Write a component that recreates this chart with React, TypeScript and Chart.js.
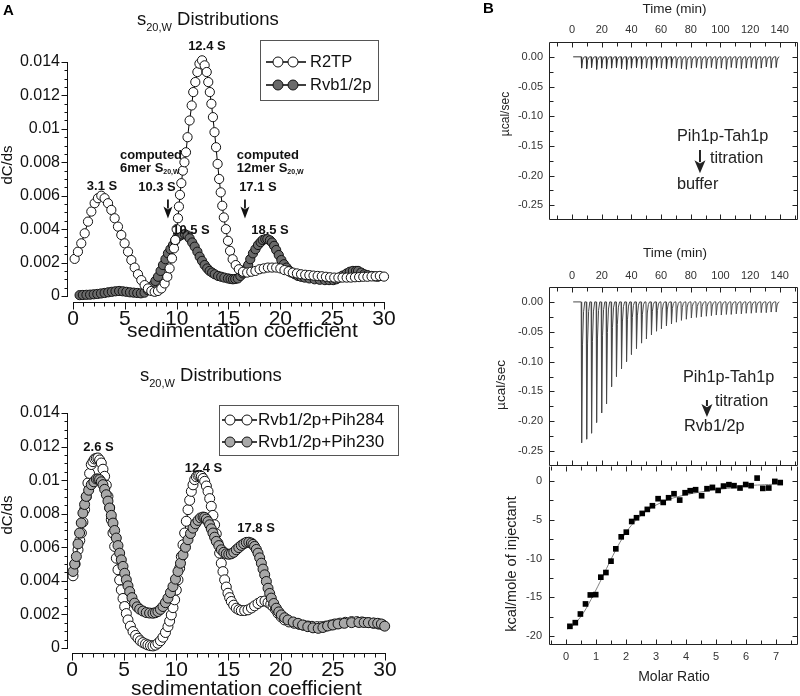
import React, { useEffect, useRef } from 'react';
import { Chart, registerables } from 'chart.js';

Chart.register(...registerables);

const FONT = '"Liberation Sans", Arial, Helvetica, sans-serif';

// ================= Panel A (top): s20,w distributions =================
const r2tpS = [0.16,0.48,0.8,1.13,1.45,1.77,2.09,2.41,2.73,3.05,3.38,3.7,4.02,4.34,4.66,4.98,5.31,5.63,5.95,6.27,6.59,6.91,7.23,7.56,7.88,8.2,8.52,8.84,9.1,9.32,9.55,9.74,9.87,10.0,10.13,10.22,10.32,10.45,10.6,10.75,10.9,11.05,11.25,11.45,11.6,11.8,12.0,12.2,12.45,12.7,12.9,13.05,13.2,13.35,13.5,13.65,13.8,13.95,14.1,14.25,14.4,14.55,14.75,14.95,15.15,15.4,15.7,16.0,16.4,16.8,17.2,17.6,18.0,18.4,18.8,19.2,19.6,20.0,20.4,20.8,21.2,21.6,22.0,22.4,22.8,23.2,23.6,24.0,24.4,24.8,25.2,25.6,26.0,26.4,26.8,27.2,27.6,28.0,28.4,28.8,29.2,29.6,30.0];
const r2tpC = [0.00222,0.00265,0.00315,0.00375,0.00445,0.00505,0.00555,0.00585,0.006,0.00585,0.00555,0.00515,0.00465,0.00415,0.00365,0.00315,0.00265,0.00215,0.0017,0.0013,0.00095,0.00065,0.00045,0.0003,0.00025,0.0003,0.00045,0.00075,0.00115,0.00165,0.00225,0.00285,0.00335,0.004,0.00465,0.00535,0.00605,0.00675,0.0075,0.008,0.0086,0.0095,0.0105,0.0114,0.0122,0.0128,0.0134,0.0139,0.0141,0.0138,0.0134,0.0128,0.0122,0.0115,0.0107,0.0098,0.0089,0.0079,0.007,0.0062,0.0054,0.0047,0.004,0.0033,0.0027,0.0022,0.00185,0.0016,0.00145,0.0014,0.00145,0.0015,0.0016,0.00165,0.0017,0.0017,0.0017,0.00165,0.00155,0.00148,0.0014,0.00135,0.0013,0.00127,0.00125,0.00122,0.0012,0.00118,0.00115,0.00112,0.0011,0.0011,0.0011,0.0011,0.0011,0.00112,0.00113,0.00115,0.00115,0.00117,0.00118,0.0012,0.00116];
const rvbS = [0.64,0.95,1.3,1.65,2.0,2.35,2.7,3.05,3.4,3.75,4.1,4.45,4.8,5.15,5.5,5.85,6.2,6.55,6.9,7.23,7.5,7.72,7.95,8.2,8.45,8.68,8.92,9.16,9.4,9.65,9.85,10.05,10.3,10.55,10.8,11.05,11.25,11.5,11.74,12.0,12.22,12.45,12.7,12.95,13.18,13.42,13.67,14.0,14.3,14.6,14.95,15.2,15.43,15.65,15.9,16.15,16.4,16.65,16.9,17.1,17.36,17.6,17.85,18.1,18.3,18.55,18.75,19.0,19.2,19.4,19.6,19.85,20.1,20.35,20.6,20.85,21.06,21.4,21.7,22.0,22.35,22.8,23.3,23.8,24.3,24.7,25.1,25.4,25.7,26.0,26.4,26.7,27.0,27.3,27.5,27.8,28.1,28.4,28.8,29.1,29.4];
const rvbC = [0.00005,0.00006,0.00007,0.00008,0.0001,0.00012,0.00015,0.00018,0.00022,0.00025,0.00028,0.0003,0.00028,0.00025,0.00022,0.0002,0.00018,0.00016,0.0002,0.00035,0.0005,0.00065,0.0009,0.00115,0.0015,0.00185,0.0022,0.00255,0.0028,0.00305,0.0033,0.0035,0.0036,0.00368,0.0037,0.00362,0.00345,0.0032,0.00295,0.00265,0.00235,0.0021,0.00185,0.00165,0.0015,0.0014,0.0013,0.0012,0.00115,0.0011,0.00105,0.00102,0.001,0.00102,0.00105,0.0012,0.00135,0.0016,0.00185,0.0022,0.00255,0.0028,0.00305,0.00322,0.00335,0.0034,0.0034,0.00333,0.0032,0.003,0.00275,0.00245,0.00215,0.0019,0.0017,0.00152,0.0014,0.0013,0.0012,0.00115,0.0011,0.00105,0.001,0.00097,0.00095,0.00095,0.00095,0.001,0.0011,0.00122,0.00135,0.00145,0.0015,0.0015,0.0015,0.0014,0.0013,0.00125,0.0012,0.00117,0.00115];

// ================= Panel A (bottom) =================
const pih284S = [0.1,0.3,0.58,0.75,0.9,1.05,1.21,1.37,1.53,1.69,1.85,2.01,2.17,2.33,2.49,2.65,2.81,2.97,3.13,3.29,3.45,3.61,3.77,3.93,4.09,4.25,4.41,4.57,4.73,4.89,5.05,5.21,5.37,5.6,5.85,6.1,6.33,6.55,6.8,7.05,7.28,7.52,7.76,8.0,8.24,8.48,8.72,8.96,9.2,9.36,9.52,9.68,9.84,10.0,10.16,10.32,10.48,10.64,10.8,10.96,11.12,11.28,11.44,11.6,11.76,11.92,12.08,12.24,12.4,12.56,12.72,12.88,13.04,13.2,13.35,13.51,13.67,13.83,13.99,14.15,14.31,14.47,14.63,14.79,14.95,15.11,15.27,15.5,15.75,16.0,16.23,16.55,16.87,17.2,17.5,17.83,18.15,18.5,18.79,19.05,19.27,19.5,19.74,20.05,20.38,20.8,21.3,21.8,22.2,22.6,23.0,23.5,23.9,24.3,24.8,25.2,25.7,26.2,26.8,27.3,27.8,28.4,28.9,29.4,29.8];
const pih284C = [0.0043,0.005,0.00585,0.0064,0.00685,0.0075,0.00824,0.009,0.00983,0.0104,0.01093,0.0111,0.01126,0.0113,0.01132,0.0112,0.01102,0.01065,0.01023,0.0097,0.00903,0.00835,0.00764,0.00685,0.00605,0.00535,0.00466,0.00405,0.00346,0.00295,0.00247,0.00205,0.00167,0.0013,0.00098,0.00075,0.00058,0.00043,0.00032,0.00024,0.00018,0.00014,0.00012,0.00017,0.00028,0.00043,0.00064,0.00092,0.00127,0.0016,0.00197,0.0024,0.00287,0.00345,0.00406,0.00475,0.00545,0.00615,0.00685,0.00755,0.00824,0.0088,0.00933,0.00972,0.01003,0.0102,0.01027,0.01028,0.01023,0.0101,0.00993,0.00965,0.00933,0.0089,0.00844,0.0079,0.00734,0.0068,0.00625,0.00565,0.00505,0.00455,0.00406,0.00363,0.00326,0.003,0.00277,0.00255,0.00237,0.00228,0.00223,0.00223,0.00227,0.00238,0.00251,0.00265,0.00277,0.0028,0.00271,0.0026,0.00247,0.0023,0.00207,0.00185,0.00167,0.00155,0.00147,0.0014,0.00135,0.00131,0.00129,0.00127,0.00127,0.0013,0.00137,0.00143,0.00148,0.00153,0.00157,0.00157,0.00155,0.00151,0.00147,0.00142,0.00137];
const pih230S = [0.1,0.26,0.42,0.58,0.73,0.89,1.05,1.21,1.37,1.6,1.85,2.1,2.33,2.5,2.65,2.81,2.97,3.13,3.29,3.45,3.61,3.77,3.93,4.09,4.25,4.41,4.57,4.73,4.89,5.05,5.21,5.37,5.53,5.75,6.0,6.25,6.49,6.8,7.12,7.44,7.76,8.0,8.24,8.48,8.72,8.96,9.2,9.44,9.68,9.92,10.16,10.4,10.64,10.88,11.12,11.36,11.6,11.84,12.08,12.32,12.56,12.72,12.88,13.04,13.19,13.35,13.51,13.67,13.83,14.07,14.31,14.55,14.79,15.03,15.27,15.51,15.75,15.99,16.23,16.47,16.71,16.95,17.19,17.35,17.5,17.67,17.83,17.99,18.15,18.31,18.47,18.63,18.79,18.95,19.1,19.34,19.58,19.82,20.06,20.38,20.7,21.2,21.66,22.1,22.6,23.1,23.6,24.05,24.5,25.0,25.5,26.1,26.8,27.5,28.0,28.4,28.9,29.3,29.65,29.97];
const pih230C = [0.00456,0.005,0.00545,0.0062,0.00685,0.00745,0.00804,0.00855,0.00903,0.0094,0.00973,0.0099,0.01007,0.01007,0.01003,0.0099,0.00973,0.00945,0.00913,0.00875,0.00834,0.0079,0.00744,0.007,0.00655,0.0061,0.00565,0.00525,0.00486,0.00445,0.00406,0.0037,0.00336,0.003,0.00267,0.00245,0.00231,0.0022,0.00211,0.00208,0.00207,0.0021,0.00217,0.0023,0.00247,0.0027,0.00297,0.0033,0.00366,0.0041,0.00456,0.00505,0.00555,0.006,0.00645,0.00682,0.00714,0.0074,0.0076,0.00775,0.0078,0.00778,0.00768,0.00753,0.00734,0.0071,0.00685,0.0066,0.00635,0.0061,0.00585,0.0057,0.00561,0.00558,0.00561,0.0057,0.00585,0.00598,0.00611,0.00621,0.00629,0.0063,0.00625,0.00617,0.00605,0.00587,0.00565,0.00537,0.00505,0.0047,0.00436,0.00396,0.00356,0.00325,0.00297,0.00265,0.00237,0.00215,0.00197,0.0018,0.00167,0.00155,0.00147,0.00137,0.00127,0.0012,0.00117,0.00122,0.00131,0.00137,0.00143,0.00147,0.00151,0.00152,0.00152,0.00151,0.00149,0.00147,0.00143,0.0013];

const sTickLabels = [0, 5, 10, 15, 20, 25, 30];
const dcdsTickLabels = [0, 0.002, 0.004, 0.006, 0.008, 0.01, 0.012, 0.014];

// ================= Panel B: ITC =================
const injTime = [6.1,9.5,12.8,16.2,19.6,22.9,26.3,29.6,33.0,36.4,39.7,43.1,46.5,49.8,53.2,56.6,59.9,63.3,66.7,70.0,73.4,76.7,80.1,83.5,86.8,90.2,93.6,96.9,100.3,103.7,107.0,110.4,113.8,117.1,120.5,123.8,127.2,130.6,133.9,137.3];
const bufferPeak = [-0.019,-0.020,-0.018,-0.021,-0.019,-0.020,-0.019,-0.018,-0.020,-0.021,-0.019,-0.018,-0.020,-0.019,-0.021,-0.018,-0.019,-0.020,-0.018,-0.019,-0.020,-0.021,-0.019,-0.018,-0.020,-0.019,-0.018,-0.020,-0.019,-0.021,-0.018,-0.019,-0.020,-0.019,-0.018,-0.020,-0.019,-0.017,-0.019,-0.018];
const rvbPeak = [-0.236,-0.230,-0.220,-0.202,-0.186,-0.171,-0.142,-0.125,-0.112,-0.100,-0.088,-0.078,-0.069,-0.062,-0.055,-0.049,-0.045,-0.040,-0.037,-0.034,-0.031,-0.029,-0.027,-0.026,-0.025,-0.024,-0.023,-0.022,-0.022,-0.021,-0.021,-0.020,-0.020,-0.019,-0.019,-0.018,-0.018,-0.018,-0.017,-0.017];
const runStart = [0.7];
const runEnd = [140.0];
const timeTickLabels = [0, 20, 40, 60, 80, 100, 120, 140];
const rateTickLabels = [0, -0.05, -0.1, -0.15, -0.2, -0.25];

const molarRatio = [0.13,0.31,0.48,0.65,0.81,0.99,1.16,1.33,1.50,1.66,1.84,2.01,2.19,2.35,2.54,2.71,2.88,3.07,3.24,3.42,3.60,3.79,3.97,4.14,4.32,4.52,4.70,4.88,5.07,5.25,5.43,5.60,5.80,5.99,6.17,6.37,6.56,6.76,6.96,7.14];
const kcalPerMole = [-18.75,-18.28,-17.16,-15.86,-14.7,-14.66,-12.41,-11.81,-10.34,-8.75,-7.2,-6.6,-5.22,-4.74,-4.18,-3.66,-3.19,-2.28,-2.76,-2.16,-1.64,-2.46,-1.51,-1.25,-1.12,-1.9,-0.99,-0.82,-1.21,-0.65,-0.47,-0.6,-0.9,-0.45,-0.6,0.38,-0.95,-0.9,-0.05,-0.2];
const fitRatio = [0.05,0.3,0.6,0.9,1.2,1.5,1.8,2.1,2.4,2.7,3.0,3.4,3.8,4.2,4.6,5.0,5.5,6.0,6.5,7.0,7.2];
const fitKcal = [-19.1,-18.4,-16.9,-14.8,-12.5,-10.1,-7.9,-6.1,-4.8,-3.8,-3.1,-2.4,-1.95,-1.6,-1.35,-1.12,-0.9,-0.6,-0.5,-0.4,-0.37];
const ratioTickLabels = [0, 1, 2, 3, 4, 5, 6, 7];
const kcalTickLabels = [0, -5, -10, -15, -20];

// ================= helpers =================
const zip = (xs: number[], ys: number[]) =>
  xs.slice(0, Math.min(xs.length, ys.length)).map((x, i) => ({ x, y: ys[i] }));

const steps = (from: number, to: number, step: number) => {
  const a: number[] = [];
  for (let i = 0; from + i * step <= to + 1e-9; i++) a.push(+(from + i * step).toFixed(6));
  return a;
};

function itcTrace(times: number[], peaks: number[]) {
  const pts: { x: number; y: number }[] = [{ x: runStart[0], y: 0 }];
  const n = Math.min(times.length, peaks.length);
  for (let i = 0; i < n; i++) {
    const t = times[i];
    const h = peaks[i];
    pts.push({ x: t, y: 0 }, { x: t + 0.3, y: h }, { x: t + 0.9, y: h * 0.3 }, { x: t + 1.6, y: h * 0.07 }, { x: t + 2.4, y: 0 });
  }
  pts.push({ x: runEnd[0], y: 0 });
  return pts;
}

type Seg = { t: string; size: number; bold?: boolean; dy?: number };
const segFont = (s: Seg) => `${s.bold ? 'bold ' : ''}${s.size}px ${FONT}`;

function drawSegs(ctx: any, segs: Seg[], x: number, y: number, align: string, baseline: string, color: string) {
  ctx.save();
  ctx.fillStyle = color;
  ctx.textBaseline = baseline;
  ctx.textAlign = 'left';
  let total = 0;
  for (const s of segs) {
    ctx.font = segFont(s);
    total += ctx.measureText(s.t).width;
  }
  let cx = align === 'center' ? x - total / 2 : align === 'right' ? x - total : x;
  for (const s of segs) {
    ctx.font = segFont(s);
    ctx.fillText(s.t, cx, y + (s.dy || 0));
    cx += ctx.measureText(s.t).width;
  }
  ctx.restore();
}

function linScale(o: any) {
  return {
    type: 'linear',
    position: o.position,
    min: o.min,
    max: o.max,
    afterBuildTicks: (s: any) => {
      s.ticks = o.labels.map((v: number) => ({ value: v }));
    },
    afterFit: (s: any) => {
      if (o.width != null) s.width = o.width;
      if (o.height != null) s.height = o.height;
      s.paddingLeft = 0;
      s.paddingRight = 0;
      s.paddingTop = 0;
      s.paddingBottom = 0;
    },
    grid: { display: false, drawTicks: false },
    border: { display: false },
    title: { display: false },
    ticks: {
      autoSkip: false,
      maxRotation: 0,
      minRotation: 0,
      padding: o.pad,
      color: o.color,
      font: { family: FONT, size: o.size },
      callback: o.fmt,
    },
  };
}

const baseOptions = {
  animation: false,
  responsive: false,
  maintainAspectRatio: false,
  events: [],
  plugins: { legend: { display: false }, tooltip: { enabled: false }, title: { display: false } },
};

function circleSeries(label: string, data: any[], fill: string, r: number) {
  return {
    label,
    data,
    showLine: true,
    borderColor: '#000',
    borderWidth: 1,
    backgroundColor: fill,
    pointRadius: r,
    pointHoverRadius: r,
    pointBackgroundColor: fill,
    pointBorderColor: '#111',
    pointBorderWidth: 1,
    tension: 0,
    clip: false,
  };
}

// open (detached) axes with outward ticks, for panel A
function openAxes(cfg: any) {
  return {
    id: 'openAxes',
    afterDraw(chart: any) {
      const { ctx, chartArea: a } = chart;
      const xs = chart.scales.x;
      const ys = chart.scales.y;
      ctx.save();
      ctx.strokeStyle = '#111';
      ctx.lineWidth = 1;
      ctx.beginPath();
      const lx = Math.round(a.left) - 0.5;
      const yb = Math.round(ys.getPixelForValue(cfg.yMajor[0])) + 0.5;
      const yt = Math.round(ys.getPixelForValue(cfg.yMajor[cfg.yMajor.length - 1])) + 0.5;
      ctx.moveTo(lx, yb + 0.5);
      ctx.lineTo(lx, yt - 0.5);
      for (const v of cfg.yMinor) {
        const p = Math.round(ys.getPixelForValue(v)) + 0.5;
        const len = cfg.yMajor.includes(v) ? 6 : 3;
        ctx.moveTo(lx, p);
        ctx.lineTo(lx - len, p);
      }
      const by = Math.round(a.bottom) + 0.5;
      const xl = Math.round(xs.getPixelForValue(cfg.xMajor[0])) + 0.5;
      const xr = Math.round(xs.getPixelForValue(cfg.xMajor[cfg.xMajor.length - 1])) + 0.5;
      ctx.moveTo(xl - 0.5, by);
      ctx.lineTo(xr + 0.5, by);
      for (const v of cfg.xMinor) {
        const p = Math.round(xs.getPixelForValue(v)) + 0.5;
        const len = cfg.xMajor.includes(v) ? 7 : 4;
        ctx.moveTo(p, by);
        ctx.lineTo(p, by + len);
      }
      ctx.stroke();
      ctx.restore();
    },
  };
}

// framed box with inward ticks, for panel B
function boxAxes(cfg: any) {
  return {
    id: 'boxAxes',
    afterDraw(chart: any) {
      const { ctx, chartArea: a } = chart;
      const xs = chart.scales.x;
      const ys = chart.scales.y;
      const L = Math.round(a.left) + 0.5;
      const R = Math.round(a.right) - 0.5;
      const T = Math.round(a.top) + 0.5;
      const B = Math.round(a.bottom) - 0.5;
      ctx.save();
      ctx.strokeStyle = '#222';
      ctx.lineWidth = 1;
      ctx.beginPath();
      ctx.moveTo(L, T);
      ctx.lineTo(L, B);
      ctx.lineTo(R, B);
      ctx.lineTo(R, T);
      if (!cfg.skipTop) ctx.lineTo(L, T);
      for (const v of cfg.xTicks) {
        const p = Math.round(xs.getPixelForValue(v)) + 0.5;
        if (p <= L + 1 || p >= R - 1) continue;
        const len = cfg.xMajor.includes(v) ? 5 : 4;
        ctx.moveTo(p, T);
        ctx.lineTo(p, T + len);
        ctx.moveTo(p, B);
        ctx.lineTo(p, B - len);
      }
      for (const v of cfg.yTicks) {
        const p = Math.round(ys.getPixelForValue(v)) + 0.5;
        if (p <= T + 1 || p >= B - 1) continue;
        const len = cfg.yMajor.includes(v) ? 5 : 4;
        ctx.moveTo(L, p);
        ctx.lineTo(L + len, p);
        ctx.moveTo(R, p);
        ctx.lineTo(R - len, p);
      }
      ctx.stroke();
      ctx.restore();
    },
  };
}

// annotations placed in data coordinates
function annot(items: any[], color: string) {
  return {
    id: 'annot',
    afterDraw(chart: any) {
      const ctx = chart.ctx;
      const xs = chart.scales.x;
      const ys = chart.scales.y;
      for (const it of items) {
        if (it.arrow) {
          const px = xs.getPixelForValue(it.x);
          const y1 = ys.getPixelForValue(it.y1);
          const y2 = ys.getPixelForValue(it.y2);
          ctx.save();
          ctx.strokeStyle = color;
          ctx.fillStyle = color;
          ctx.lineWidth = it.shaft;
          ctx.beginPath();
          ctx.moveTo(px, y1);
          ctx.lineTo(px, y2 - it.head + 2);
          ctx.stroke();
          ctx.beginPath();
          ctx.moveTo(px - it.headW / 2, y2 - it.head);
          ctx.lineTo(px, y2 - it.head * 0.75);
          ctx.lineTo(px + it.headW / 2, y2 - it.head);
          ctx.lineTo(px, y2);
          ctx.closePath();
          ctx.fill();
          ctx.restore();
        } else {
          drawSegs(ctx, it.segs, xs.getPixelForValue(it.x), ys.getPixelForValue(it.y), it.align, 'middle', color);
        }
      }
    },
  };
}

// titles, panel letters and legend
function decor(texts: any[], legend?: any) {
  return {
    id: 'decor',
    afterDraw(chart: any) {
      const ctx = chart.ctx;
      for (const t of texts) {
        if (t.rot) {
          ctx.save();
          ctx.translate(t.x, t.y);
          ctx.rotate(-Math.PI / 2);
          drawSegs(ctx, t.segs, 0, 0, 'center', 'middle', t.color);
          ctx.restore();
        } else {
          drawSegs(ctx, t.segs, t.x, t.y, t.align, t.baseline, t.color);
        }
      }
      if (legend) {
        const o = legend;
        ctx.save();
        ctx.strokeStyle = '#555';
        ctx.lineWidth = 1;
        ctx.strokeRect(o.x1 + 0.5, o.y1 + 0.5, o.x2 - o.x1, o.y2 - o.y1);
        for (const row of o.rows) {
          const ds = chart.data.datasets[row.ds];
          ctx.strokeStyle = '#000';
          ctx.lineWidth = 1.3;
          ctx.beginPath();
          ctx.moveTo(o.lx1, row.y);
          ctx.lineTo(o.lx2, row.y);
          ctx.stroke();
          for (const cx of o.cx) {
            ctx.beginPath();
            ctx.arc(cx, row.y, o.r, 0, Math.PI * 2);
            ctx.fillStyle = ds.pointBackgroundColor;
            ctx.fill();
            ctx.lineWidth = 1;
            ctx.strokeStyle = '#111';
            ctx.stroke();
          }
          ctx.fillStyle = '#111';
          ctx.font = `${o.size}px ${FONT}`;
          ctx.textAlign = 'left';
          ctx.textBaseline = 'middle';
          ctx.fillText(ds.label, o.tx, row.y);
        }
        ctx.restore();
      }
    },
  };
}

const b13 = (t: string): Seg[] => [{ t, size: 13, bold: true }];
const reg = (t: string, size: number): Seg[] => [{ t, size }];
const sTitle = (): Seg[] => [
  { t: 's', size: 18.5 },
  { t: '20,W', size: 11, dy: 6 },
  { t: ' Distributions', size: 18.5 },
];

// ================= chart builders =================
function buildL1() {
  return {
    type: 'scatter',
    data: {
      datasets: [
        circleSeries('R2TP', zip(r2tpS, r2tpC), '#ffffff', 4.6),
        circleSeries('Rvb1/2p', zip(rvbS, rvbC), '#6a6a6a', 4.6),
      ],
    },
    options: {
      ...baseOptions,
      layout: { autoPadding: false, padding: { top: 62, right: 16, bottom: 0, left: 0 } },
      scales: {
        x: linScale({ position: 'bottom', min: -0.48, max: 30, labels: sTickLabels, height: 43, pad: 4.4, size: 21, color: '#111', fmt: (v: any) => String(v) }),
        y: linScale({ position: 'left', min: -0.00036, max: 0.014, labels: dcdsTickLabels, width: 68, pad: 8, size: 16, color: '#111', fmt: (v: any) => String(v) }),
      },
    },
    plugins: [
      openAxes({ xMajor: sTickLabels, xMinor: steps(0, 30, 1), yMajor: dcdsTickLabels, yMinor: steps(0, 0.014, 0.0005) }),
      annot(
        [
          { x: 12.92, y: 0.01491, segs: b13('12.4 S'), align: 'center' },
          { x: 2.8, y: 0.00653, segs: b13('3.1 S'), align: 'center' },
          { x: 4.53, y: 0.00844, segs: b13('computed'), align: 'left' },
          { x: 4.53, y: 0.00766, segs: [{ t: '6mer S', size: 13, bold: true }, { t: '20,W', size: 7, bold: true, dy: 4 }], align: 'left' },
          { x: 8.1, y: 0.00647, segs: b13('10.3 S'), align: 'center' },
          { arrow: true, x: 9.16, y1: 0.00578, y2: 0.00464, head: 12, headW: 9, shaft: 1.8 },
          { x: 15.8, y: 0.00844, segs: b13('computed'), align: 'left' },
          { x: 15.8, y: 0.00766, segs: [{ t: '12mer S', size: 13, bold: true }, { t: '20,W', size: 7, bold: true, dy: 4 }], align: 'left' },
          { x: 17.84, y: 0.00647, segs: b13('17.1 S'), align: 'center' },
          { arrow: true, x: 16.59, y1: 0.00578, y2: 0.00464, head: 12, headW: 9, shaft: 1.8 },
          { x: 11.38, y: 0.00395, segs: b13('10.5 S'), align: 'center' },
          { x: 19.0, y: 0.00395, segs: b13('18.5 S'), align: 'center' },
        ],
        '#111'
      ),
      decor(
        [
          { segs: [{ t: 'A', size: 15, bold: true }], x: 3, y: 15, align: 'left', baseline: 'alphabetic', color: '#000' },
          { segs: sTitle(), x: 137, y: 25, align: 'left', baseline: 'alphabetic', color: '#111' },
          { segs: reg('dC/ds', 15), x: 7.5, y: 165, rot: true, color: '#111' },
          { segs: reg('sedimentation coefficient', 21), x: 242.5, y: 337, align: 'center', baseline: 'alphabetic', color: '#111' },
        ],
        { x1: 260, y1: 40, x2: 378, y2: 100, rows: [{ ds: 0, y: 62 }, { ds: 1, y: 85 }], lx1: 266, lx2: 306, cx: [278, 293], r: 5, tx: 310, size: 16.5 }
      ),
    ],
  };
}

function buildL2() {
  return {
    type: 'scatter',
    data: {
      datasets: [
        circleSeries('Rvb1/2p+Pih230', zip(pih230S, pih230C), '#a8a8a8', 5),
        circleSeries('Rvb1/2p+Pih284', zip(pih284S, pih284C), '#ffffff', 5),
      ],
    },
    options: {
      ...baseOptions,
      layout: { autoPadding: false, padding: { top: 63, right: 15, bottom: 0, left: 0 } },
      scales: {
        x: linScale({ position: 'bottom', min: -0.38, max: 30, labels: sTickLabels, height: 47, pad: 5.1, size: 21, color: '#111', fmt: (v: any) => String(v) }),
        y: linScale({ position: 'left', min: -0.0003, max: 0.014, labels: dcdsTickLabels, width: 68, pad: 8, size: 16, color: '#111', fmt: (v: any) => String(v) }),
      },
    },
    plugins: [
      openAxes({ xMajor: sTickLabels, xMinor: steps(0, 30, 1), yMajor: dcdsTickLabels, yMinor: steps(0, 0.014, 0.0005) }),
      annot(
        [
          { x: 2.54, y: 0.01197, segs: b13('2.6 S'), align: 'center' },
          { x: 12.6, y: 0.01072, segs: b13('12.4 S'), align: 'center' },
          { x: 17.64, y: 0.00715, segs: b13('17.8 S'), align: 'center' },
        ],
        '#111'
      ),
      decor(
        [
          { segs: sTitle(), x: 140, y: 31, align: 'left', baseline: 'alphabetic', color: '#111' },
          { segs: reg('dC/ds', 15), x: 7.5, y: 165, rot: true, color: '#111' },
          { segs: reg('sedimentation coefficient', 21), x: 246.5, y: 345, align: 'center', baseline: 'alphabetic', color: '#111' },
        ],
        { x1: 219, y1: 55, x2: 398, y2: 105, rows: [{ ds: 1, y: 70 }, { ds: 0, y: 92 }], lx1: 222, lx2: 257, cx: [230, 247], r: 5, tx: 258, size: 17 }
      ),
    ],
  };
}

const timeAxisTicks = steps(-10, 150, 10);
const rateAxisTicks = steps(-0.275, 0.025, 0.025);

function buildRaw(which: 'buffer' | 'rvb') {
  const isTop = which === 'buffer';
  return {
    type: 'scatter',
    data: {
      datasets: [
        {
          label: isTop ? 'Pih1p-Tah1p into buffer' : 'Pih1p-Tah1p into Rvb1/2p',
          data: itcTrace(injTime, isTop ? bufferPeak : rvbPeak),
          showLine: true,
          borderColor: isTop ? '#333' : '#4a4a4a',
          borderWidth: 1,
          pointRadius: 0,
          tension: 0,
        },
      ],
    },
    options: {
      ...baseOptions,
      layout: { autoPadding: false, padding: { top: 0, right: 2, bottom: isTop ? 10 : 0, left: 0 } },
      scales: {
        x: linScale({ position: 'top', min: -15.6, max: 152.3, labels: timeTickLabels, height: isTop ? 42 : 57, pad: isTop ? 5 : 4.4, size: 11, color: '#333', fmt: (v: any) => String(v) }),
        y: linScale({ position: 'left', min: -0.275, max: 0.025, labels: rateTickLabels, width: 149, pad: 6, size: 11, color: '#333', fmt: (v: any) => Number(v).toFixed(2) }),
      },
    },
    plugins: [
      boxAxes({ xTicks: timeAxisTicks, xMajor: timeTickLabels, yTicks: rateAxisTicks, yMajor: rateTickLabels }),
      annot(
        isTop
          ? [
              { x: 70.7, y: -0.135, segs: reg('Pih1p-Tah1p', 16.3), align: 'left' },
              { x: 92.9, y: -0.172, segs: reg('titration', 16.3), align: 'left' },
              { x: 70.7, y: -0.216, segs: reg('buffer', 16.3), align: 'left' },
              { arrow: true, x: 86.2, y1: -0.157, y2: -0.196, head: 13, headW: 11, shaft: 2 },
            ]
          : [
              { x: 74.7, y: -0.1275, segs: reg('Pih1p-Tah1p', 16.3), align: 'left' },
              { x: 96.25, y: -0.1677, segs: reg('titration', 16.3), align: 'left' },
              { x: 75.4, y: -0.2096, segs: reg('Rvb1/2p', 16.3), align: 'left' },
              { arrow: true, x: 90.9, y1: -0.1644, y2: -0.1929, head: 13, headW: 11, shaft: 2 },
            ],
        '#222'
      ),
      decor(
        isTop
          ? [
              { segs: [{ t: 'B', size: 15, bold: true }], x: 83, y: 13, align: 'left', baseline: 'alphabetic', color: '#000' },
              { segs: reg('Time (min)', 13.5), x: 274.5, y: 9, align: 'center', baseline: 'middle', color: '#222' },
              { segs: reg('µcal/sec', 12), x: 106, y: 114, rot: true, color: '#222' },
            ]
          : [
              { segs: reg('Time (min)', 13.5), x: 275, y: 23, align: 'center', baseline: 'middle', color: '#222' },
              { segs: reg('µcal/sec', 13.5), x: 101, y: 155, rot: true, color: '#222' },
            ]
      ),
    ],
  };
}

const buildR1 = () => buildRaw('buffer');
const buildR2 = () => buildRaw('rvb');

function buildR3() {
  return {
    type: 'scatter',
    data: {
      datasets: [
        {
          label: 'Integrated heats',
          data: zip(molarRatio, kcalPerMole),
          showLine: false,
          pointStyle: 'rect',
          pointRadius: 4,
          pointHoverRadius: 4,
          pointBackgroundColor: '#000',
          pointBorderColor: '#000',
          pointBorderWidth: 0,
          clip: false,
        },
        {
          label: 'Fit',
          data: zip(fitRatio, fitKcal),
          showLine: true,
          borderColor: '#808080',
          borderWidth: 1,
          pointRadius: 0,
          tension: 0.3,
        },
      ],
    },
    options: {
      ...baseOptions,
      layout: { autoPadding: false, padding: { top: 0, right: 2, bottom: 0, left: 0 } },
      scales: {
        x: linScale({ position: 'bottom', min: -0.567, max: 7.733, labels: ratioTickLabels, height: 51, pad: 5.8, size: 11, color: '#333', fmt: (v: any) => String(v) }),
        y: linScale({ position: 'left', min: -21.16, max: 1.94, labels: kcalTickLabels, width: 149, pad: 7, size: 11, color: '#333', fmt: (v: any) => String(v) }),
      },
    },
    plugins: [
      boxAxes({ skipTop: true, xTicks: steps(-0.5, 7.5, 0.5), xMajor: ratioTickLabels, yTicks: steps(-20, 0, 2.5), yMajor: kcalTickLabels }),
      decor([
        { segs: reg('kcal/mole of injectant', 14.5), x: 112, y: 98, rot: true, color: '#222' },
        { segs: reg('Molar Ratio', 14), x: 274, y: 211, align: 'center', baseline: 'middle', color: '#222' },
      ]),
    ],
  };
}

function ChartCanvas({ x, y, w, h, build }: any) {
  const ref = useRef<HTMLCanvasElement | null>(null);
  useEffect(() => {
    if (!ref.current) return;
    const chart = new Chart(ref.current, build());
    return () => chart.destroy();
  }, [build]);
  return (
    <canvas
      ref={ref}
      width={w}
      height={h}
      style={{ position: 'absolute', left: x, top: y, width: w, height: h, display: 'block' }}
    />
  );
}

export default function App() {
  return (
    <div style={{ position: 'absolute', left: 0, top: 0, width: 800, height: 696, overflow: 'hidden', background: '#ffffff' }}>
      <ChartCanvas x={0} y={0} w={400} h={345} build={buildL1} />
      <ChartCanvas x={0} y={350} w={400} h={350} build={buildL2} />
      <ChartCanvas x={400} y={0} w={400} h={230} build={buildR1} />
      <ChartCanvas x={400} y={230} w={400} h={236} build={buildR2} />
      <ChartCanvas x={400} y={466} w={400} h={230} build={buildR3} />
    </div>
  );
}
